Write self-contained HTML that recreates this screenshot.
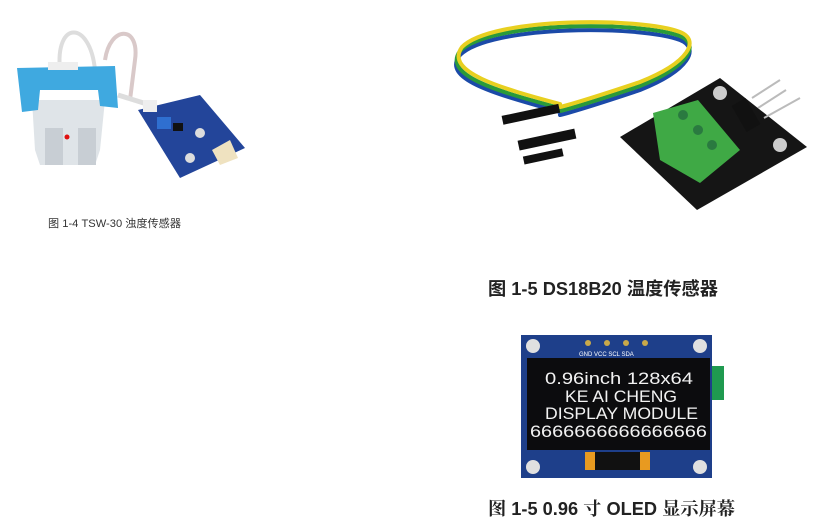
<!DOCTYPE html>
<html><head><meta charset="utf-8"><style>
html,body{margin:0;padding:0;background:#fff;width:838px;height:532px;overflow:hidden}
svg{display:block}
</style></head><body>
<svg width="838" height="532" viewBox="0 0 838 532" xmlns="http://www.w3.org/2000/svg">
<g>
 <path d="M60 70 C55 20 90 20 95 70" fill="none" stroke="#ddd" stroke-width="4"/>
 <path d="M105 60 C110 25 140 25 135 60 L130 100" fill="none" stroke="#d9c9c9" stroke-width="4"/>
 <path d="M118 95 L150 105" stroke="#ddd" stroke-width="5"/>
 <path d="M32 100 L105 100 L100 150 L95 165 L40 165 L35 150 Z" fill="#dfe4e8"/>
 <rect x="45" y="128" width="18" height="37" fill="#c8ced4"/>
 <rect x="78" y="128" width="18" height="37" fill="#c8ced4"/>
 <circle cx="67" cy="137" r="2.5" fill="#e01010"/>
 <path d="M17 68 L115 66 L118 108 L100 106 L98 90 L40 90 L38 110 L22 112 Z" fill="#3fa9e0"/>
 <rect x="48" y="62" width="30" height="8" fill="#eee"/>
 <path d="M138 110 L200 95 L245 148 L180 178 Z" fill="#23459a"/>
 <rect x="157" y="117" width="14" height="12" fill="#2f6fd0"/>
 <rect x="173" y="123" width="10" height="8" fill="#111"/>
 <path d="M212 150 L230 140 L238 158 L220 165 Z" fill="#efe2c0"/>
 <rect x="143" y="100" width="14" height="12" fill="#eee"/>
 <circle cx="200" cy="133" r="5" fill="#ddd"/><circle cx="190" cy="158" r="5" fill="#ddd"/>
</g>
<text x="48" y="227" textLength="133" lengthAdjust="spacingAndGlyphs" font-family="Liberation Sans,'Noto Sans CJK SC',sans-serif" font-size="11" fill="#333">图 1-4 TSW-30 浊度传感器</text>

<g fill="none" stroke-linecap="round">
 <path d="M560 112 C500 95 440 80 460 55 C490 25 640 25 680 40 C700 48 690 70 640 90 C610 100 580 110 560 115" stroke="#1b4aa8" stroke-width="4"/>
 <path d="M560 108 C500 92 442 76 460 51 C490 21 640 21 680 36 C700 44 690 66 640 86 C610 96 580 106 560 111" stroke="#2a9a3a" stroke-width="4"/>
 <path d="M560 104 C500 88 444 72 462 47 C492 17 640 17 680 32 C700 40 690 62 640 82 C610 92 580 102 560 107" stroke="#e8d020" stroke-width="4"/>
</g>
<rect x="502" y="110" width="58" height="9" fill="#111" transform="rotate(-12 530 115)"/>
<rect x="518" y="135" width="58" height="10" fill="#111" transform="rotate(-12 545 140)"/>
<rect x="523" y="152" width="40" height="8" fill="#111" transform="rotate(-12 545 155)"/>
<path d="M620 137 L720 78 L807 147 L697 210 Z" fill="#151515"/>
<circle cx="720" cy="93" r="7" fill="#ccc"/><circle cx="780" cy="145" r="7" fill="#ccc"/>
<path d="M653 113 L698 100 L740 150 L700 183 L660 160 Z" fill="#3fa945"/>
<circle cx="683" cy="115" r="5" fill="#2a7a40"/><circle cx="698" cy="130" r="5" fill="#2a7a40"/><circle cx="712" cy="145" r="5" fill="#2a7a40"/>
<rect x="738" y="100" width="16" height="30" fill="#111" transform="rotate(-30 746 115)"/>
<g stroke="#bbb" stroke-width="2"><line x1="752" y1="98" x2="780" y2="80"/><line x1="758" y1="108" x2="786" y2="90"/><line x1="764" y1="118" x2="800" y2="98"/></g>
<text x="488" y="295" textLength="230" lengthAdjust="spacingAndGlyphs" font-family="Liberation Sans,'Noto Sans CJK SC',sans-serif" font-size="18" font-weight="bold" fill="#222">图 1-5 DS18B20 温度传感器</text>

<rect x="710" y="366" width="14" height="34" fill="#1f9a50"/>
<rect x="521" y="335" width="191" height="143" fill="#1e3f8a"/>
<circle cx="533" cy="346" r="7" fill="#e0e0e0"/><circle cx="700" cy="346" r="7" fill="#e0e0e0"/>
<circle cx="533" cy="467" r="7" fill="#e0e0e0"/><circle cx="700" cy="467" r="7" fill="#e0e0e0"/>
<g fill="#c9a94a"><circle cx="588" cy="343" r="3"/><circle cx="607" cy="343" r="3"/><circle cx="626" cy="343" r="3"/><circle cx="645" cy="343" r="3"/></g>
<text x="579" y="356" font-family="Liberation Sans,sans-serif" font-size="6" fill="#fff">GND VCC  SCL  SDA</text>
<rect x="527" y="358" width="183" height="92" fill="#0c0c0e"/>
<path d="M585 452 L585 470 L650 470 L650 452 Z" fill="#e89a20"/>
<rect x="595" y="452" width="45" height="18" fill="#111"/>
<g font-family="Liberation Sans,'DejaVu Sans',sans-serif" font-size="17" fill="#f2f2f2" lengthAdjust="spacingAndGlyphs">
<text x="545" y="384" textLength="148" lengthAdjust="spacingAndGlyphs">0.96inch 128x64</text>
<text x="565" y="402" textLength="112" lengthAdjust="spacingAndGlyphs">KE AI CHENG</text>
<text x="545" y="419" textLength="153" lengthAdjust="spacingAndGlyphs">DISPLAY MODULE</text>
<text x="530" y="437" textLength="177" lengthAdjust="spacingAndGlyphs">6666666666666666</text>
</g>
<text x="488" y="515" textLength="247" lengthAdjust="spacingAndGlyphs" font-family="Liberation Sans,'Noto Serif CJK SC',serif" font-size="18" font-weight="bold" fill="#222">图 1-5 0.96 寸 OLED 显示屏幕</text>
</svg>
</body></html>
